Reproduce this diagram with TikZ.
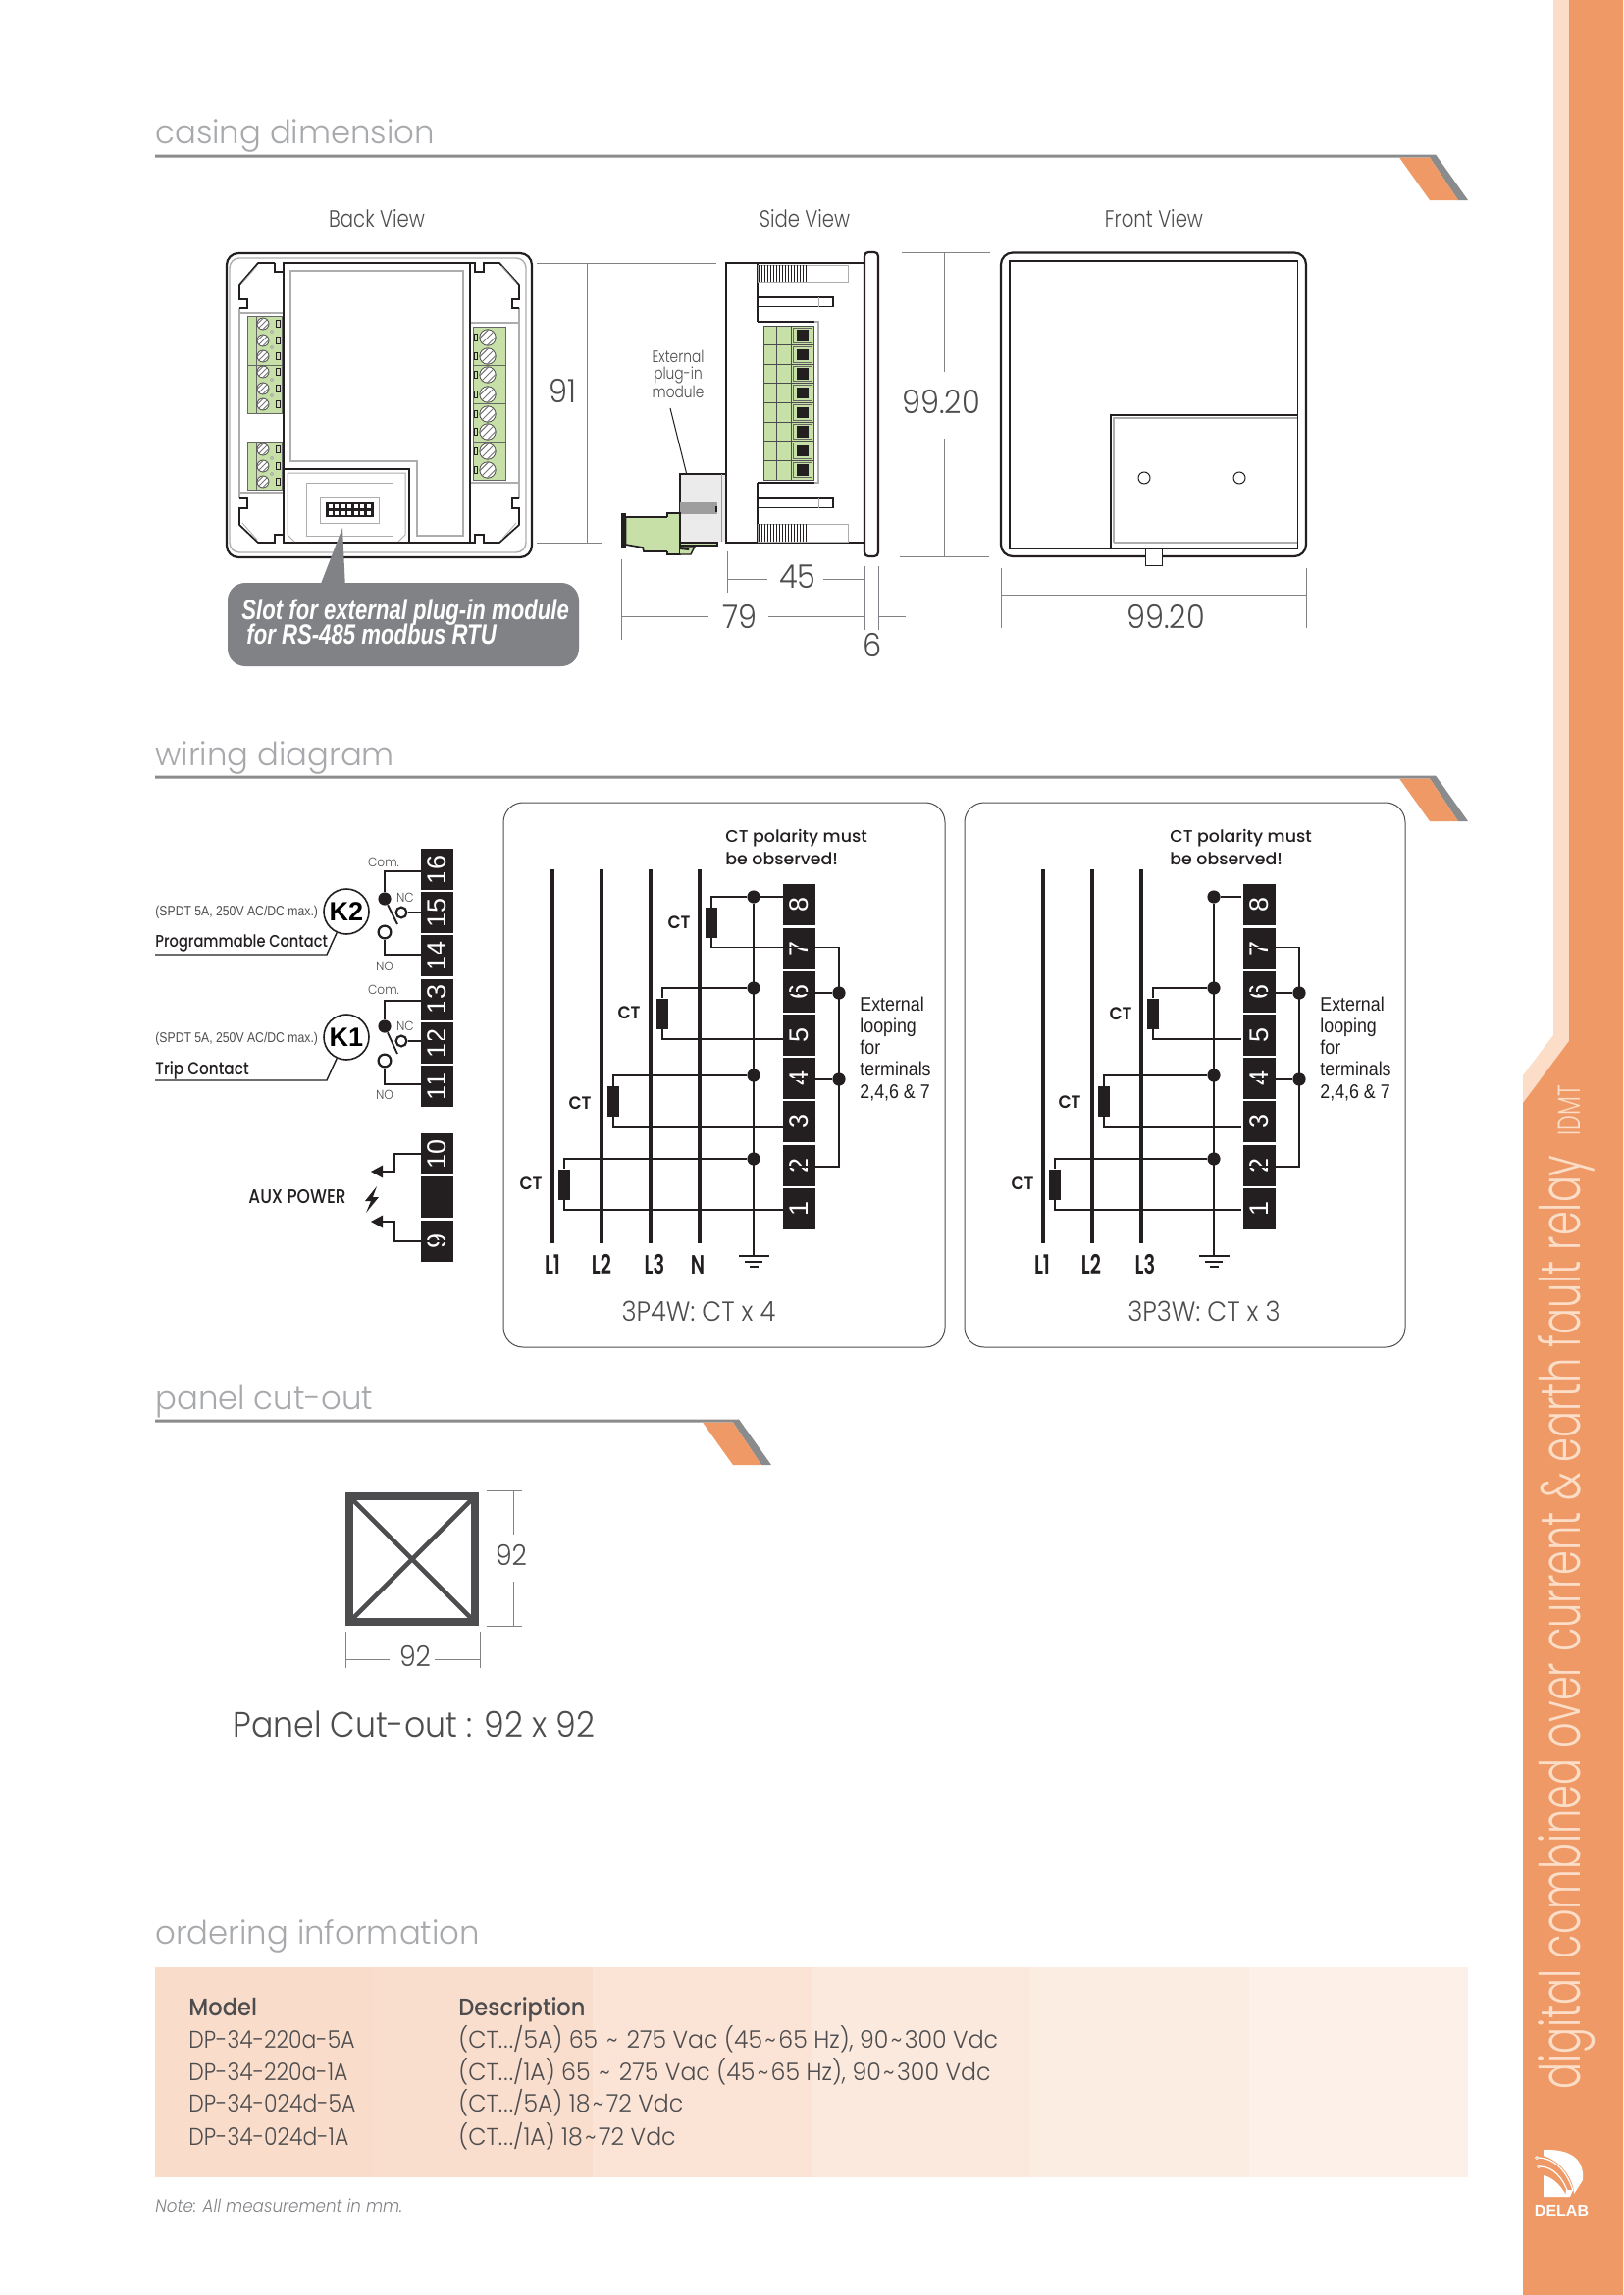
\documentclass[tikz,border=0pt]{standalone}
\usepackage{fontspec}
\setmainfont{Liberation Sans}
\newfontfamily\lightfont[FakeStretch=0.92]{Poppins Light}
\newfontfamily\viewfont[FakeStretch=0.82]{Poppins Light}
\newfontfamily\headfont[FakeStretch=0.98]{Poppins Light}
\newfontfamily\sidefont[FakeStretch=0.70]{Poppins Light}
\newfontfamily\modelfont[FakeStretch=0.89]{Poppins Light}
\newfontfamily\descfont[FakeStretch=0.96]{Poppins Light}
\newfontfamily\demifont[FakeStretch=1.01]{Poppins Medium}
\newfontfamily\progfont[FakeStretch=0.85]{Poppins Medium}
\newfontfamily\tablefont[FakeStretch=0.92]{Poppins Medium}
\newfontfamily\boldcond[FakeStretch=0.72]{Poppins SemiBold}
\newfontfamily\ctfont[FakeStretch=0.95]{Poppins SemiBold}
\newfontfamily\lightitfont[FakeStretch=0.93]{Poppins Light Italic}
\newfontfamily\narrowfont[FakeStretch=0.86]{Liberation Sans}
\newfontfamily\slotfont[FakeStretch=0.78]{Liberation Sans}
\newfontfamily\loopfont[FakeStretch=0.89]{Liberation Sans}
\definecolor{delaborange}{RGB}{239,154,102}
\definecolor{delabpale}{RGB}{251,221,200}
\definecolor{barback}{RGB}{138,139,141}
\definecolor{headgray}{RGB}{167,169,172}
\definecolor{textgray}{RGB}{77,77,79}
\definecolor{dimgray}{RGB}{128,130,133}
\definecolor{termgreen}{RGB}{198,224,168}
\definecolor{inkblack}{RGB}{35,31,32}
\newcommand{\tld}{\hspace{1.2pt}\textasciitilde\hspace{1.2pt}}
\newcommand{\ctdots}{.\hspace{0.6pt}.\hspace{0.6pt}.}
\tikzset{
  heading/.style={anchor=base west, inner sep=0pt, text=headgray, font=\headfont\fontsize{16.5}{20}\selectfont},
  viewname/.style={inner sep=0pt, anchor=base, text=textgray, font=\viewfont\fontsize{12}{14}\selectfont},
  dimtext/.style={inner sep=0pt, text=textgray, font=\lightfont\fontsize{16.5}{18}\selectfont},
  dimline/.style={draw=dimgray, line width=0.5pt},
  outline/.style={draw=inkblack, line width=0.85pt},
  greyline/.style={draw=black!32, line width=0.7pt},
  termbox/.style={rotate=90, fill=inkblack, text=white, minimum width=21pt, minimum height=16.5pt, inner sep=0pt, font=\fontsize{13.5}{15}\selectfont},
  wire/.style={draw=inkblack, line width=0.9pt},
  busbar/.style={draw=inkblack, line width=2.3pt},
  junction/.style={circle, fill=inkblack, minimum size=6.6pt, inner sep=0pt},
  opencontact/.style={circle, draw=inkblack, fill=white, line width=1.1pt, minimum size=5.4pt, inner sep=0pt},
  ctbox/.style={fill=inkblack, minimum width=6pt, minimum height=15.5pt, inner sep=0pt},
  ctname/.style={inner sep=0pt, text=inkblack, font=\ctfont\fontsize{9}{10}\selectfont},
  coilring/.style={circle, draw=inkblack, line width=0.8pt, minimum size=23pt, inner sep=0pt, font=\bfseries\fontsize{13.5}{14}\selectfont},
  panelbox/.style={draw=textgray, line width=0.5pt, rounded corners=10pt},
  boldnote/.style={anchor=base west, inner sep=0pt, text=inkblack, font=\demifont\fontsize{8.6}{11.5}\selectfont, align=left},
  smallnote/.style={inner sep=0pt, text=textgray, font=\narrowfont\fontsize{7.1}{8}\selectfont},
  relayname/.style={inner sep=0pt, text=textgray, font=\lightfont\fontsize{6.6}{8}\selectfont},
  linename/.style={anchor=base, inner sep=0pt, text=inkblack, font=\boldcond\fontsize{13.5}{14}\selectfont},
  loopnote/.style={anchor=base west, align=left, inner sep=0pt, text=inkblack, font=\loopfont\fontsize{10}{11.1}\selectfont},
  captiontext/.style={anchor=base, inner sep=0pt, text=textgray, font=\lightfont\fontsize{14}{16}\selectfont},
  slottext/.style={anchor=base west, inner sep=0pt, text=white, font=\slotfont\bfseries\itshape\fontsize{14.2}{15}\selectfont},
  modelrow/.style={anchor=base west, inner sep=0pt, text=textgray, font=\modelfont\fontsize{12.3}{14}\selectfont},
  descrow/.style={anchor=base west, inner sep=0pt, text=textgray, font=\descfont\fontsize{12.3}{14}\selectfont},
  tablehead/.style={anchor=base west, inner sep=0pt, text=textgray, font=\tablefont\fontsize{12.3}{14}\selectfont},
}
% one screw head of the terminal blocks
\newcommand{\screwhead}[3]{%
  \draw[draw=black!70, fill=white, line width=0.4pt] (#1,#2) circle[radius=#3];
  \begin{scope}
    \clip (#1,#2) circle[radius=#3];
    \foreach \d in {-0.45,0,0.45}
      \draw[black!55, line width=0.45pt] ({#1+\d*#3-#3},{#2+\d*#3+#3}) -- ({#1+\d*#3+#3},{#2+\d*#3-#3});
  \end{scope}}
% section header: title, rule and the two slanted flags
\newcommand{\sectionbar}[4]{%
  \node[heading] (#4) at (158,#2-12) {#1};
  \fill[barback] (158,#2-1.5) -- ({#3+1},#2-1.5) -- ({#3+34},#2+45) -- ({#3+24},#2+45) -- ({#3-5},#2+1.5) -- (158,#2+1.5) -- cycle;
  \fill[delaborange] ({#3-36},#2+1.5) -- ({#3-5},#2+1.5) -- ({#3+24},#2+45) -- ({#3-5},#2+45) -- cycle;}

\begin{document}
\begin{tikzpicture}[x=0.5pt, y=-0.5pt]
    \useasboundingbox (0,0) rectangle (1654,2339);

    % Side strip
    \fill[delabpale] (1583,0) -- (1583,1055) -- (1552,1096) -- (1552,1124) -- (1599,1061) -- (1599,0) -- cycle;
    \fill[delaborange] (1599,0) -- (1654,0) -- (1654,2339) -- (1552,2339) -- (1552,1124) -- (1599,1061) -- cycle;
    \node[rotate=90, anchor=base west, inner sep=0pt, text=delabpale, font=\sidefont\fontsize{28.5}{30}\selectfont] (sidetitle) at (1610,2130) {digital combined over current \& earth fault relay};
    \node[rotate=90, anchor=base west, inner sep=0pt, text=delabpale, font=\sidefont\fontsize{16}{18}\selectfont] (sidecode) at (1610,1158) {IDMT};

    % Logo
    \fill[white] (1573,2191) .. controls (1600,2190) and (1615,2200) .. (1613,2222) -- (1604,2236) .. controls (1604,2222) and (1592,2203) .. (1573,2197) -- cycle;
    \fill[white] (1573,2217) .. controls (1585,2220) and (1592,2230) .. (1597,2239) -- (1573,2239) -- cycle;
    \draw[white, line width=0.6pt] (1567,2199) .. controls (1585,2199) and (1598,2215) .. (1603,2233);
    \draw[white, line width=0.6pt] (1569,2208) .. controls (1583,2208) and (1593,2220) .. (1598,2235);
    \fill[white] (1596,2232) -- (1603,2232) -- (1600,2239) -- (1595,2239) -- cycle;
    \draw[white, line width=0.35pt] (1566,2199) circle[radius=1.5] (1568,2208) circle[radius=1.5];
    \node[inner sep=0pt, anchor=base, text=white, font=\bfseries\fontsize{8}{9}\selectfont] (logotext) at (1591.5,2258) {DELAB};

    % Casing dimension
    \sectionbar{casing dimension}{159}{1462}{casinghead}
    \node[viewname] (backname) at (384,231) {Back View};
    \node[viewname] (sidename) at (820,231) {Side View};
    \node[viewname] (frontname) at (1176,231) {Front View};

    % Back view
    \draw[outline, line width=1.1pt, rounded corners=6pt] (231,258) rectangle (542,568);
    \draw[greyline, rounded corners=5pt] (234,263) rectangle (536,563);
    \draw[greyline] (244,314) -- (244,508) (529,314) -- (529,508);
    \draw[greyline] (244,319) -- (289,319) (244,502) -- (289,502) (479,329) -- (529,329) (479,492) -- (529,492);
    \draw[outline] (289,268) rectangle (479,553);
    \draw[outline] (280,268) -- (263,268) -- (244,290) -- (244,305) -- (252,305) -- (252,314) -- (244,314);
    \draw[outline] (280,268) -- (280,277) -- (289,277);
    \draw[outline] (479,268) -- (484,268) -- (484,277) -- (493,277) -- (493,268) -- (509,268) -- (529,290) -- (529,305) -- (522,305) -- (522,314) -- (529,314);
    \draw[outline] (244,508) -- (252,508) -- (252,518) -- (244,518) -- (244,535) -- (263,553) -- (280,553) -- (280,545) -- (289,545);
    \draw[outline] (479,553) -- (484,553) -- (484,545) -- (493,545) -- (493,553) -- (509,553) -- (529,535) -- (529,518) -- (522,518) -- (522,508) -- (529,508);
    \draw[greyline, line width=0.4pt] (247,288) -- (262,271) (526,288) -- (511,271) (247,533) -- (262,550) (526,533) -- (511,550);
    \draw[greyline] (296,276) -- (472,276) -- (472,546) -- (425,546) -- (425,470) -- (296,470) -- cycle;
    \draw[outline] (289,478) -- (417,478) -- (417,553);
    \draw[greyline, line width=0.5pt] (293,482) -- (413,482) -- (413,545) -- (406,552) (293,482) -- (293,545) -- (300,552);
    \draw[greyline, line width=0.5pt] (312,492) rectangle (400,546);
    \draw[greyline, line width=0.5pt, fill=white] (326,507) rectangle (386,533);
    \fill[inkblack] (332,512) rectangle (381,527);
    \foreach \k in {0,...,6} {
      \fill[white] ({334.5+6.5*\k},513.5) rectangle ++(4,4.5);
      \fill[white] ({334.5+6.5*\k},520.5) rectangle ++(4,4.5);
    }

    % Back view terminal blocks
    \fill[termgreen] (252,322) rectangle (287,421);
    \fill[termgreen] (252,450) rectangle (287,499);
    \draw[black!60, line width=0.4pt] (252,322) rectangle (287,421) (252,450) rectangle (287,499) (261,322) -- (261,421) (261,450) -- (261,499) (252,372) -- (287,372);
    \foreach \y in {330,347,363,379,396,412,458,475,491} {
      \fill[inkblack] (281,{\y-4}) rectangle (286,{\y+4});
      \fill[termgreen] (282.2,{\y-2.8}) rectangle (284.8,{\y+2.8});
      \screwhead{268}{\y}{6}
    }
    \foreach \y in {338,354,387,403,467,483}
      \draw[black!50, line width=0.3pt, fill=white] (277,\y) circle[radius=1.5];
    \fill[termgreen] (482,333) rectangle (515,489);
    \draw[black!60, line width=0.4pt] (482,333) rectangle (515,489) (482,372) -- (515,372) (482,411) -- (515,411) (482,450) -- (515,450) (507,333) -- (507,489);
    \foreach \y in {344,363,382,402,422,440,460,479} {
      \fill[inkblack] (483,{\y-4}) rectangle (487,{\y+4});
      \fill[termgreen] (484,{\y-2.8}) rectangle (486,{\y+2.8});
      \screwhead{497}{\y}{8.2}
    }

    % Callout under back view
    \fill[dimgray] (349,538) -- (325,600) -- (352,600) -- cycle;
    \node[fill=dimgray, rounded corners=9pt, minimum width=179pt, minimum height=42.5pt, inner sep=0pt] (callout) at (411,636.5) {};
    \node[slottext] (calloutone) at (246,631) {Slot for external plug-in module};
    \node[slottext] (callouttwo) at (251,656) {for RS-485 modbus RTU};

    % Side view
    \draw[outline, line width=1.1pt] (881,268) -- (740,268) -- (740,553) -- (881,553);
    \draw[outline, line width=1.1pt, rounded corners=2pt] (881,257) -- (895,257) -- (895,567) -- (881,567) -- cycle;
    \draw[outline] (772,268) -- (772,328);
    \draw[greyline] (772,328) -- (834,328) -- (834,492) -- (772,492);
    \draw[outline, line width=0.6pt] (772,328) -- (830,328) (772,492) -- (830,492) (772,492) -- (772,553);
    \foreach \y/\h in {270/17,534/18} {
      \draw[greyline, line width=0.5pt] (772,\y) rectangle (864,{\y+\h});
      \foreach \x in {773,776,...,821}
        \draw[inkblack, line width=0.5pt] (\x,\y) -- (\x,{\y+\h});
    }
    \foreach \y in {303,508} {
      \draw[outline, line width=0.6pt] (772,\y) rectangle (849,{\y+9.5});
      \draw[greyline, line width=0.4pt] (834,\y) -- (834,{\y+9.5});
    }
    \foreach \k in {0,...,7} {
      \pgfmathsetmacro{\rowy}{332+19.63*\k}
      \fill[termgreen] (778,\rowy) rectangle (829,{\rowy+19.63});
      \draw[black!70, line width=0.4pt] (778,\rowy) rectangle (829,{\rowy+19.63}) (791,\rowy) -- (791,{\rowy+19.63}) (806,\rowy) -- (806,{\rowy+19.63});
      \draw[black!60, line width=0.5pt] (808,{\rowy+2}) rectangle (827,{\rowy+17.5});
      \fill[inkblack] (812,{\rowy+4}) rectangle (824,{\rowy+15.5});
    }

    % Plug-in module
    \node[anchor=base, align=center, inner sep=0pt, text=textgray, font=\viewfont\fontsize{8.4}{8.3}\selectfont] (pluglabel) at (691,405) {External\\plug-in\\module};
    \coordinate (plugtip) at (702,492);
    \draw[line width=0.5pt, draw=inkblack] (683,416) -- (plugtip);
    \fill[black!8] (693,483) rectangle (739,552);
    \draw[outline] (739,483) -- (693,483) -- (693,552);
    \draw[black!40, line width=0.4pt] (735,483) -- (735,552);
    \fill[black!38] (693,512) rectangle (731,524);
    \fill[inkblack] (729,516) rectangle (730.5,522);
    \draw[outline, fill=termgreen, line width=0.7pt] (693,553) -- (731,553) -- (731,556) -- (693,556);
    \draw[outline, fill=termgreen] (637.5,527) -- (691,527) -- (691,562) -- (656,562) -- (655,558) -- (637.5,555) -- cycle;
    \fill[inkblack] (633,523) rectangle (637.5,558);
    \draw[outline, fill=termgreen, line width=0.7pt] (680,527) -- (680,523) -- (693,523) -- (693,565) -- (680,565) -- (680,562);
    \draw[outline, fill=termgreen, line width=0.7pt] (693,557) -- (708,557) -- (704,565) -- (693,565);
    \fill[inkblack] (693,557) -- (702,559) -- (702,561) -- (693,560) -- cycle;

    % Front view
    \draw[outline, line width=1.1pt, rounded corners=6pt] (1020,257.5) rectangle (1331,567);
    \draw[outline] (1029,266) rectangle (1322.5,559);
    \draw[outline, line width=0.7pt] (1132,559) -- (1132,423) -- (1322.5,423);
    \draw[greyline] (1135,553) -- (1135,426) -- (1322,426) (1135,553) -- (1322,553);
    \draw[draw=inkblack, line width=0.5pt] (1166,487) circle[radius=6] (1263,487) circle[radius=6];
    \draw[draw=inkblack, line width=0.5pt, fill=white] (1167,559) rectangle (1184,576);

    % Casing dimension lines
    \coordinate (dimA) at (547,268);
    \draw[dimline] (dimA) -- (730,268) (547,553) -- (614,553) (598,268) -- (598,553);
    \node[dimtext] (dimninetyone) at (573,399) {91};
    \draw[dimline] (919,257.5) -- (1009,257.5) (917,567) -- (1008,567) (962,257.5) -- (962,379) (962,447) -- (962,567);
    \node[dimtext] (dimsidea) at (959,410) {99.20};
    \draw[dimline] (741,562) -- (741,604) (881,577) -- (881,642) (895,577) -- (895,642) (633,570) -- (633,652);
    \draw[dimline] (741,590) -- (782,590) (839,590) -- (881,590);
    \node[dimtext] (dimfortyfive) at (813,588) {45};
    \draw[dimline] (633,628) -- (722,628) (783,628) -- (881,628) (895,628) -- (923,628);
    \node[dimtext] (dimseventynine) at (754,628) {79};
    \node[dimtext] (dimsix) at (889,657) {6};
    \draw[dimline] (1020,579) -- (1020,640) (1331,579) -- (1331,640) (1020,606) -- (1331,606);
    \node[dimtext] (dimfront) at (1188,629) {99.20};

    % Wiring diagram
    \sectionbar{wiring diagram}{792}{1462}{wiringhead}

    % Relay terminals
    \foreach \n/\y in {16/886,15/930,14/974,13/1018.5,12/1063,11/1107,10/1176,9/1265}
      \node[termbox] (r\n) at (445.5,\y) {\n};
    \node[termbox] (rblank) at (445.5,1220) {};

    % Relay K2
    \coordinate (com2) at (392,888);
    \node[junction] (dot2) at (392,916) {};
    \node[opencontact] (nc2) at (409,930) {};
    \node[opencontact, minimum size=6.4pt] (no2) at (392,950) {};
    \coordinate (arm2) at (405,942);
    \coordinate (nowire2) at (392,973);
    \draw[wire] (r16.south |- com2) -- (com2) -- (dot2);
    \draw[wire] (nc2) -- (r15.south |- nc2);
    \draw[wire] (no2) -- (nowire2) -- (r14.south |- nowire2);
    \draw[wire] (dot2) -- (arm2);
    \node[coilring] (k2) at (353,929) {K2};
    \coordinate (bend2) at (333,973);
    \coordinate (leader2) at (158,973);
    \draw[wire, line width=0.7pt] (k2) -- (bend2) -- (leader2);
    \node[smallnote, anchor=base west] (spdt2) at (158,933) {(SPDT 5A, 250V AC/DC max.)};
    \node[boldnote, font=\progfont\fontsize{8.6}{11.5}\selectfont] (prog) at (158,965) {Programmable Contact};
    \node[relayname] (comname2) at (391,879) {Com.};
    \node[relayname] (ncname2) at (413,915) {NC};
    \node[relayname] (noname2) at (392,985) {NO};

    % Relay K1
    \coordinate (com1) at (392,1020);
    \node[junction] (dot1) at (392,1046) {};
    \node[opencontact] (nc1) at (409,1061) {};
    \node[opencontact, minimum size=6.4pt] (no1) at (392,1081) {};
    \coordinate (arm1) at (405,1074);
    \coordinate (nowire1) at (392,1105);
    \draw[wire] (r13.south |- com1) -- (com1) -- (dot1);
    \draw[wire] (nc1) -- (r12.south |- nc1);
    \draw[wire] (no1) -- (nowire1) -- (r11.south |- nowire1);
    \draw[wire] (dot1) -- (arm1);
    \node[coilring] (k1) at (353,1057) {K1};
    \coordinate (bend1) at (333,1101);
    \coordinate (leader1) at (158,1101);
    \draw[wire, line width=0.7pt] (k1) -- (bend1) -- (leader1);
    \node[smallnote, anchor=base west] (spdt1) at (158,1062) {(SPDT 5A, 250V AC/DC max.)};
    \node[boldnote, font=\progfont\fontsize{9}{11.5}\selectfont] (trip) at (158,1095) {Trip Contact};
    \node[relayname] (comname1) at (391,1009) {Com.};
    \node[relayname] (ncname1) at (413,1046) {NC};
    \node[relayname] (noname1) at (392,1116) {NO};

    % Aux power
    \coordinate (auxa) at (378,1194);
    \coordinate (auxb) at (378,1245);
    \draw[wire] (r10.south) -- (402,1176) -- (402,1194) -- (388,1194);
    \draw[wire] (r9.south) -- (402,1265) -- (402,1245) -- (388,1245);
    \fill[inkblack] (auxa) -- (390,1187.5) -- (390,1200.5) -- cycle;
    \fill[inkblack] (auxb) -- (390,1238.5) -- (390,1251.5) -- cycle;
    \node[boldnote, font=\progfont\fontsize{10}{12}\selectfont] (auxname) at (253,1226) {AUX POWER};
    \fill[inkblack] (384,1209) -- (372,1224) -- (378,1224) -- (373,1236) -- (386,1220) -- (380,1220) -- cycle;

    % Wiring 3P4W
    \node[panelbox, minimum width=225pt, minimum height=277.5pt, inner sep=0pt] (panela) at (738,1095.5) {};
    \node[boldnote] (polaritya) at (739,881) {CT polarity must\\be observed!};
    \foreach \x/\t/\lx in {563/L1/563,613/L2/613,663/L3/667,713/N/711} {
      \node[inner sep=0pt] (barta\t) at (\x,885) {};
      \node[inner sep=0pt] (barba\t) at (\x,1268) {};
      \draw[busbar] (barta\t) -- (barba\t);
      \node[linename] (namea\t) at (\lx,1298) {\t};
    }
    \foreach \n/\y in {8/922,7/966.5,6/1010.5,5/1055,4/1099,3/1143,2/1188,1/1232}
      \node[termbox] (a\n) at (814.5,\y) {\n};
    \foreach \n/\y in {8/914,6/1007,4/1096,2/1181}
      \node[junction] (ja\n) at (768,\y) {};
    \coordinate (grounda) at (768,1280);
    \draw[wire] (ja8) -- (grounda);
    \draw[wire] (ja8) -- (a8.south |- ja8);
    \foreach \n/\m/\x/\y/\cy/\lx/\ly in {8/7/725/965.5/940.5/692/940,6/5/675/1059/1033/641/1032,4/3/625/1149/1122.5/591/1124,2/1/575/1233/1207/541/1206} {
      \node[ctbox] (cta\n) at (\x,\cy) {};
      \coordinate (enda\n) at (798,\y);
      \draw[wire] (ja\n) -| (cta\n);
      \draw[wire] (cta\n) |- (enda\n);
      \node[ctname] (ctnamea\n) at (\lx,\ly) {CT};
    }
    \draw[wire] (753,1280) -- (784,1280) (759,1286) -- (777,1286) (764,1291) -- (773,1291);
    \coordinate (loopa) at (855,965.5);
    \coordinate (loopb) at (855,1189);
    \node[junction] (ja66) at (855,1012) {};
    \node[junction] (ja44) at (855,1100) {};
    \draw[wire] (a7.north |- loopa) -- (loopa) -- (loopb) -- (a2.north |- loopb);
    \draw[wire] (ja66) -- (a6.north |- ja66);
    \draw[wire] (ja44) -- (a4.north |- ja44);
    \node[loopnote] (loopnotea) at (876,1119) {External\\looping\\for\\terminals\\2,4,6 \& 7};
    \node[captiontext] (captiona) at (712,1346) {3P4W: CT x 4};

    % Wiring 3P3W
    \node[panelbox, minimum width=224.5pt, minimum height=277.5pt, inner sep=0pt] (panelb) at (1207.5,1095.5) {};
    \node[boldnote] (polarityb) at (1192,881) {CT polarity must\\be observed!};
    \foreach \x/\t/\lx in {1063/L1/1062,1113/L2/1112,1163/L3/1167} {
      \node[inner sep=0pt] (bartb\t) at (\x,885) {};
      \node[inner sep=0pt] (barbb\t) at (\x,1268) {};
      \draw[busbar] (bartb\t) -- (barbb\t);
      \node[linename] (nameb\t) at (\lx,1298) {\t};
    }
    \foreach \n/\y in {8/922,7/966.5,6/1010.5,5/1055,4/1099,3/1143,2/1188,1/1232}
      \node[termbox] (b\n) at (1283.5,\y) {\n};
    \foreach \n/\y in {8/914,6/1007,4/1096,2/1181}
      \node[junction] (jb\n) at (1237,\y) {};
    \coordinate (groundb) at (1237,1280);
    \coordinate (shortb) at (1265,914);
    \draw[wire] (jb8) -- (groundb);
    \draw[wire] (jb8) -- (shortb);
    \foreach \n/\m/\x/\y/\cy/\lx/\ly in {6/5/1175/1059/1033/1142/1033,4/3/1125/1149/1122.5/1090/1123,2/1/1075/1233/1207/1042/1206} {
      \node[ctbox] (ctb\n) at (\x,\cy) {};
      \coordinate (endb\n) at (1265,\y);
      \draw[wire] (jb\n) -| (ctb\n);
      \draw[wire] (ctb\n) |- (endb\n);
      \node[ctname] (ctnameb\n) at (\lx,\ly) {CT};
    }
    \draw[wire] (1222,1280) -- (1253,1280) (1228,1286) -- (1246,1286) (1233,1291) -- (1242,1291);
    \coordinate (loopc) at (1324,965.5);
    \coordinate (loopd) at (1324,1189);
    \node[junction] (jb66) at (1324,1012) {};
    \node[junction] (jb44) at (1324,1100) {};
    \draw[wire] (b7.north |- loopc) -- (loopc) -- (loopd) -- (b2.north |- loopd);
    \draw[wire] (jb66) -- (b6.north |- jb66);
    \draw[wire] (jb44) -- (b4.north |- jb44);
    \node[loopnote] (loopnoteb) at (1345,1119) {External\\looping\\for\\terminals\\2,4,6 \& 7};
    \node[captiontext] (captionb) at (1227,1346) {3P3W: CT x 3};

    % Panel cut-out
    \sectionbar{panel cut-out}{1448}{752}{panelhead}
    \draw[draw=textgray, line width=3.8pt] (356,1525) rectangle (484,1653);
    \draw[draw=textgray, line width=2.3pt] (356,1525) -- (484,1653) (484,1525) -- (356,1653);
    \draw[dimline] (496,1519) -- (532,1519) (496,1657) -- (532,1657) (523,1519) -- (523,1564) (523,1612) -- (523,1657);
    \node[inner sep=0pt, text=textgray, font=\lightfont\fontsize{14.5}{16}\selectfont] (cutouth) at (521,1585) {92};
    \draw[dimline] (352,1663) -- (352,1700) (489.5,1663) -- (489.5,1700) (352,1691) -- (397,1691) (443,1691) -- (489.5,1691);
    \node[inner sep=0pt, text=textgray, font=\lightfont\fontsize{14.5}{16}\selectfont] (cutoutw) at (423,1688) {92};
    \node[anchor=base west, inner sep=0pt, text=textgray, font=\lightfont\fontsize{18}{20}\selectfont] (cutoutname) at (237,1770) {Panel Cut-out : 92 x 92};

    % Ordering information
    \node[heading] (orderhead) at (158,1981) {ordering information};
    \foreach \x/\c in {158/35,381/33,604/27,827/22,1050/18,1273/15}
      \fill[delaborange!\c] (\x,2005) rectangle ++(223,214);
    \node[tablehead] (modelhead) at (192,2054) {Model};
    \node[tablehead] (deschead) at (467,2054) {Description};
    \node[modelrow] (modela) at (192,2087) {DP-34-220a-5A};
    \node[modelrow] (modelb) at (192,2120) {DP-34-220a-1A};
    \node[modelrow] (modelc) at (192,2152) {DP-34-024d-5A};
    \node[modelrow] (modeld) at (192,2186) {DP-34-024d-1A};
    \node[descrow] (desca) at (467,2087) {(CT\ctdots/5A) 65 \tld{} 275 Vac (45\tld65 Hz), 90\tld300 Vdc};
    \node[descrow] (descb) at (467,2120) {(CT\ctdots/1A) 65 \tld{} 275 Vac (45\tld65 Hz), 90\tld300 Vdc};
    \node[descrow] (descc) at (467,2152) {(CT\ctdots/5A) 18\tld72 Vdc};
    \node[descrow] (descd) at (467,2186) {(CT\ctdots/1A) 18\tld72 Vdc};
    \node[anchor=base west, inner sep=0pt, text=dimgray, font=\lightitfont\fontsize{9}{10}\selectfont] (notetext) at (158,2254) {Note: All measurement in mm.};
\end{tikzpicture}
\end{document}
